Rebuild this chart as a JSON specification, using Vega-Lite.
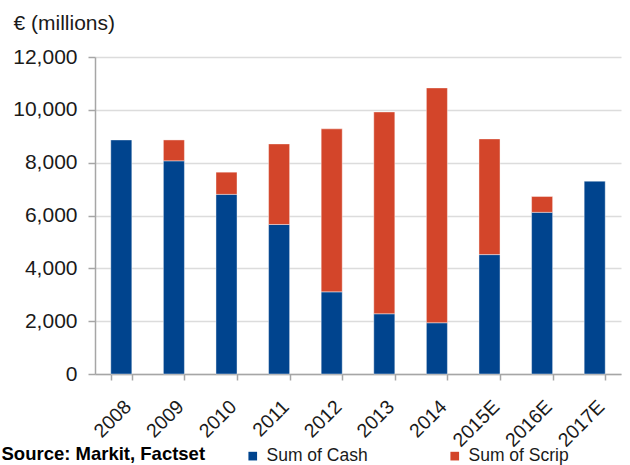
{
  "$schema": "https://vega.github.io/schema/vega-lite/v6.json",
  "autosize": {"type": "none"},
  "width": 526,
  "height": 317,
  "padding": {"left": 95, "top": 57, "right": 9, "bottom": 91},
  "background": "#ffffff",
  "config": {
    "font": "Liberation Sans",
    "view": {"stroke": null}
  },
  "data": {
    "values": [
      {"year": "2008", "type": "Sum of Cash", "value": 8860},
      {"year": "2009", "type": "Sum of Cash", "value": 8070},
      {"year": "2009", "type": "Sum of Scrip", "value": 790},
      {"year": "2010", "type": "Sum of Cash", "value": 6800},
      {"year": "2010", "type": "Sum of Scrip", "value": 840},
      {"year": "2011", "type": "Sum of Cash", "value": 5660},
      {"year": "2011", "type": "Sum of Scrip", "value": 3050},
      {"year": "2012", "type": "Sum of Cash", "value": 3110},
      {"year": "2012", "type": "Sum of Scrip", "value": 6170},
      {"year": "2013", "type": "Sum of Cash", "value": 2280},
      {"year": "2013", "type": "Sum of Scrip", "value": 7640},
      {"year": "2014", "type": "Sum of Cash", "value": 1940},
      {"year": "2014", "type": "Sum of Scrip", "value": 8890},
      {"year": "2015E", "type": "Sum of Cash", "value": 4520},
      {"year": "2015E", "type": "Sum of Scrip", "value": 4380},
      {"year": "2016E", "type": "Sum of Cash", "value": 6120},
      {"year": "2016E", "type": "Sum of Scrip", "value": 600},
      {"year": "2017E", "type": "Sum of Cash", "value": 7300}
    ]
  },
  "mark": {"type": "bar", "stroke": "#ffffff", "strokeWidth": 0.6, "strokeOpacity": 0.7},
  "encoding": {
    "x": {
      "field": "year",
      "type": "nominal",
      "sort": null,
      "scale": {"paddingInner": 0.6, "paddingOuter": 0.3},
      "axis": {
        "title": "Source: Markit, Factset",
        "titleFont": "Liberation Sans",
        "titleFontSize": 18.5,
        "titleFontWeight": "bold",
        "titleColor": "#000000",
        "titleAlign": "left",
        "titleAnchor": "start",
        "titleBaseline": "alphabetic",
        "titleX": -94,
        "titleY": 85,
        "labelAngle": -45,
        "labelFontSize": 19.5,
        "labelColor": "#1a1a1a",
        "labelPadding": 17,
        "tickBand": "extent",
        "tickSize": 6,
        "tickColor": "#a6a6a6",
        "tickWidth": 1.5,
        "domainColor": "#a6a6a6",
        "domainWidth": 1.5,
        "grid": false
      }
    },
    "y": {
      "field": "value",
      "type": "quantitative",
      "aggregate": "sum",
      "stack": "zero",
      "scale": {"domain": [0, 12000], "nice": false},
      "axis": {
        "title": "€ (millions)",
        "titleAngle": 0,
        "titleFontSize": 21,
        "titleFontWeight": "normal",
        "titleColor": "#1a1a1a",
        "titleAlign": "left",
        "titleBaseline": "alphabetic",
        "titleX": -82,
        "titleY": -28,
        "values": [0, 2000, 4000, 6000, 8000, 10000, 12000],
        "format": ",d",
        "labelFontSize": 21,
        "labelColor": "#1a1a1a",
        "labelPadding": 11,
        "tickSize": 7,
        "tickColor": "#a6a6a6",
        "tickWidth": 1.5,
        "domainColor": "#a6a6a6",
        "domainWidth": 1.5,
        "grid": true,
        "gridColor": "#dcdcdc",
        "gridWidth": 1.5
      }
    },
    "order": {"field": "type", "sort": "ascending"},
    "color": {
      "field": "type",
      "type": "nominal",
      "scale": {"domain": ["Sum of Cash", "Sum of Scrip"], "range": ["#00448e", "#d3452a"]},
      "legend": {
        "title": null,
        "orient": "none",
        "legendX": 149,
        "legendY": 390,
        "direction": "horizontal",
        "columns": 2,
        "columnPadding": 78,
        "symbolType": "square",
        "symbolSize": 75,
        "symbolStrokeWidth": 0,
        "labelFontSize": 17.5,
        "labelColor": "#1a1a1a",
        "labelOffset": 5
      }
    }
  }
}
